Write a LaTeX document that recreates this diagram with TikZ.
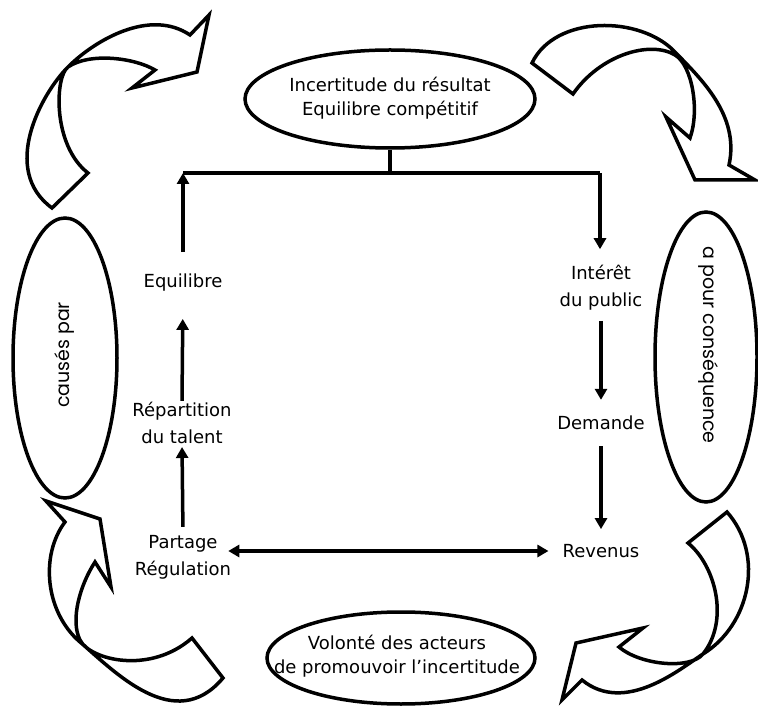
\documentclass[tikz,border=0pt]{standalone}
\usepackage{fontspec}
\setmainfont{DejaVu Sans}
\newfontfamily\rotfont{Poppins}
\usetikzlibrary{shapes.geometric,arrows.meta}
\begin{document}
\begin{tikzpicture}[x=1pt,y=-1pt,
  lbl/.style={align=center,inner sep=0pt,font=\fontsize{18}{27}\selectfont},
  olbl/.style={align=center,inner sep=0pt,font=\fontsize{18}{24}\selectfont},
  rlbl/.style={inner sep=0pt,font=\rotfont\fontsize{19}{22}\selectfont},
  oval/.style={ellipse,draw,line width=3.5pt,inner sep=0pt},
  link/.style={line width=3.5pt},
  arr/.style={line width=3.5pt,-{Triangle[length=11pt,width=12pt]}},
  darr/.style={line width=3.5pt,{Triangle[length=11pt,width=12pt]}-{Triangle[length=11pt,width=12pt]}},
  barrow/.style={draw,line width=3.5pt,line join=miter}]
\useasboundingbox (0,0) rectangle (758,708);

% ellipses
\node[oval,minimum width=290pt,minimum height=98pt] (top) at (390,99) {};
\node[olbl] (toptxt) at (390,98) {Incertitude du résultat\\Equilibre compétitif};
\node[oval,minimum width=268pt,minimum height=92pt] (bot) at (401,658) {};
\node[olbl] (bottxt) at (397,656) {Volonté des acteurs\\de promouvoir l'incertitude};
\node[oval,minimum width=104pt,minimum height=280pt] (cause) at (65,358) {};
\node[rlbl,rotate=90] (causetxt) at (65,355) {causés par};
\node[oval,minimum width=102pt,minimum height=290pt] (cons) at (706,357) {};
\node[rlbl,rotate=-90] (constxt) at (708,345) {a pour conséquence};

% block arrows
\draw[barrow] (52,208) .. controls (0,170) and (41,94) .. (68,67)
  .. controls (95,40) and (150,8) .. (190,35)
  -- (209,15) -- (197,72) -- (132,88) -- (155,70)
  .. controls (135,58) and (90,52) .. (68,67)
  .. controls (55,76) and (52,145) .. (88,173) -- cycle;

\draw[barrow] (532,63) .. controls (555,15) and (640,15) .. (675,52)
  .. controls (700,78) and (740,115) .. (729,165)
  -- (755,180) -- (695,180) -- (666,117) -- (690,138)
  .. controls (700,110) and (692,65) .. (675,55)
  .. controls (650,40) and (600,55) .. (573,94) -- cycle;

\draw[barrow] (46,501) -- (100,519) -- (111,587) -- (95,562)
  .. controls (80,585) and (70,620) .. (80,640)
  .. controls (90,660) and (150,675) .. (192,638)
  -- (223,678)
  .. controls (175,735) and (115,672) .. (80,642)
  .. controls (45,612) and (40,555) .. (65,522) -- cycle;

\draw[barrow] (688,543) -- (727,512)
  .. controls (765,555) and (750,625) .. (703,654)
  .. controls (680,669) and (625,715) .. (582,680)
  -- (562,700) -- (576,643) -- (643,628) -- (619,647)
  .. controls (640,665) and (690,670) .. (703,654)
  .. controls (730,620) and (715,565) .. (688,543) -- cycle;

% flow labels
\node[lbl] (equ) at (183,283) {Equilibre};
\node[lbl] (rep) at (182,423) {Répartition\\du talent};
\node[lbl] (par) at (183,557) {Partage\\Régulation};
\node[lbl] (int) at (601,288) {Intérêt\\du public};
\node[lbl] (dem) at (601,423) {Demande};
\node[lbl] (rev) at (601,551) {Revenus};

\coordinate (jl) at (183,173);
\coordinate (jr) at (600,173);

\draw[link] (top.south) -- (top.south |- jl);
\draw[link] (jl) -- (jr);
\draw[arr,shorten <=22pt] (equ.north) -- (jl);
\draw[arr,shorten <=1pt,shorten >=27pt] (rep.north) -- (equ.south);
\draw[arr,shorten <=8pt,shorten >=3pt] (par.north) -- (rep.south);
\draw[arr,shorten >=16pt] (jr) -- (int.north -| jr);
\draw[arr,shorten <=10pt,shorten >=16pt] (int.south) -- (dem.north);
\draw[arr,shorten <=16pt,shorten >=15pt] (dem.south) -- (rev.north);
\draw[darr,shorten <=-3pt,shorten >=14pt] (par.east |- rev.west) -- (rev.west);
\end{tikzpicture}
\end{document}
